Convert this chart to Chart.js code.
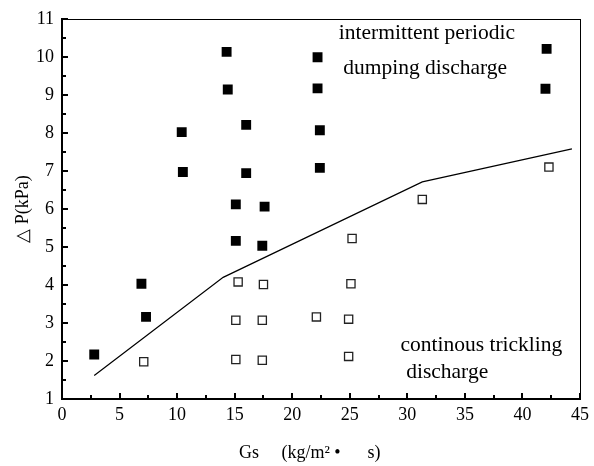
<!DOCTYPE html>
<html>
<head>
<meta charset="utf-8">
<script src="https://cdn.jsdelivr.net/npm/chart.js@4"></script>
<style>
  body { margin: 0; background: #fff; }
  canvas { display: block; }
</style>
</head>
<body>
<canvas id="chart" width="594" height="466"></canvas>
<script>
// dumping discharge (filled squares)
var dumpX = [2.8, 6.9, 7.3, 10.4, 10.5, 14.3, 14.4, 16.0, 16.0, 15.1, 17.6, 15.1, 17.4, 22.2, 22.2, 22.4, 22.4, 42.1, 42.0];
var dumpY = [2.17, 4.03, 3.16, 8.02, 6.97, 10.13, 9.14, 8.21, 6.94, 6.12, 6.06, 5.16, 5.03, 9.99, 9.17, 8.07, 7.08, 10.21, 9.16];

// continuous trickling (open squares)
var trickX = [7.1, 15.3, 17.5, 15.1, 17.4, 15.1, 17.4, 22.1, 24.9, 24.9, 25.1, 25.2, 31.3, 42.3];
var trickY = [1.98, 4.08, 4.01, 3.07, 3.07, 2.04, 2.02, 3.16, 3.10, 2.12, 4.03, 5.22, 6.25, 7.10];

// boundary line
var lineX = [2.8, 14.0, 31.3, 44.3];
var lineY = [1.62, 4.2, 6.71, 7.58];

var notes = [
  { text: "intermittent periodic", x: 31.7, y: 10.61, align: "center" },
  { text: "dumping discharge", x: 31.55, y: 9.70, align: "center" },
  { text: "continous trickling", x: 29.4, y: 2.40, align: "left" },
  { text: "discharge", x: 29.9, y: 1.70, align: "left" }
];

function pts(xs, ys) {
  return xs.map(function (x, i) { return { x: x, y: ys[i] }; });
}

var serif = "'Liberation Serif', 'Times New Roman', serif";

// inward ticks, top/right frame and text notes
var extras = {
  id: "extras",
  afterDraw: function (chart) {
    var ctx = chart.ctx;
    var a = chart.chartArea;
    var xs = chart.scales.x, ys = chart.scales.y;
    var l = Math.round(a.left), r = Math.round(a.right);
    var t = Math.round(a.top), b = Math.round(a.bottom);
    ctx.save();
    ctx.fillStyle = "#000";
    // frame top and right
    ctx.fillRect(l - 1, t, r - l + 2, 1);
    ctx.fillRect(r, t, 1, b - t);

    xs.ticks.forEach(function (tk) {
      var px = Math.round(xs.getPixelForValue(tk.value));
      var len = (tk.value % 5 === 0) ? 6 : 4;
      ctx.fillRect(px - 1, b - len, 2, len);
    });
    ys.ticks.forEach(function (tk) {
      var py = Math.round(ys.getPixelForValue(tk.value));
      var len = (tk.value % 1 === 0) ? 6 : 4;
      ctx.fillRect(l, py - 1, len, 2);
    });

    ctx.font = "21.5px " + serif;
    ctx.textBaseline = "middle";
    notes.forEach(function (n) {
      ctx.textAlign = n.align;
      ctx.fillText(n.text, xs.getPixelForValue(n.x), ys.getPixelForValue(n.y));
    });
    ctx.restore();
  }
};

new Chart(document.getElementById("chart"), {
  type: "scatter",
  data: {
    datasets: [
      {
        data: pts(dumpX, dumpY),
        pointStyle: "rect",
        pointRadius: 7,
        backgroundColor: "#000",
        borderColor: "#000",
        borderWidth: 0
      },
      {
        data: pts(trickX, trickY),
        pointStyle: "rect",
        pointRadius: 5.8,
        backgroundColor: "#fff",
        borderColor: "#222",
        borderWidth: 1.3
      },
      {
        type: "line",
        data: pts(lineX, lineY),
        borderColor: "#000",
        borderWidth: 1.2,
        pointRadius: 0,
        fill: false,
        tension: 0
      }
    ]
  },
  options: {
    responsive: false,
    animation: false,
    layout: { padding: { top: 14, right: 10, left: 0, bottom: 0 } },
    plugins: { legend: { display: false }, tooltip: { enabled: false } },
    scales: {
      x: {
        type: "linear",
        min: 0, max: 45,
        afterFit: function (s) { s.height = 67; },
        ticks: {
          stepSize: 2.5,
          autoSkip: false,
          maxRotation: 0,
          padding: 5,
          color: "#000",
          font: { family: serif, size: 18 },
          callback: function (v) { return v % 5 === 0 ? v : ""; }
        },
        grid: { display: true, drawOnChartArea: false, drawTicks: false },
        border: { color: "#000", width: 2 },
        title: {
          display: true,
          text: "Gs\u3000 (kg/m\u00b2 \u2022\u3000  s)\u3000 ",
          color: "#000",
          font: { family: serif, size: 18 },
          padding: { top: 0, bottom: 2 }
        }
      },
      y: {
        type: "linear",
        min: 1, max: 11,
        afterFit: function (s) { s.width = 62; },
        ticks: {
          stepSize: 0.5,
          autoSkip: false,
          padding: 8,
          color: "#000",
          font: { family: serif, size: 18 },
          callback: function (v) { return v % 1 === 0 ? v : ""; }
        },
        grid: { display: true, drawOnChartArea: false, drawTicks: false },
        border: { color: "#000", width: 2 },
        title: {
          display: true,
          text: "\u25b3 P(kPa)",
          color: "#000",
          font: { family: serif, size: 18 },
          padding: { top: 12, bottom: 0 }
        }
      }
    }
  },
  plugins: [extras]
});
</script>
</body>
</html>
